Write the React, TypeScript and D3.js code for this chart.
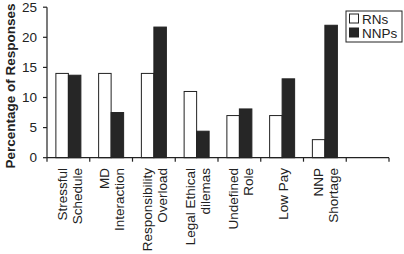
import React from "react";
import * as d3 from "d3";

const categories: string[][] = [
  ["Stressful", "Schedule"],
  ["MD", "Interaction"],
  ["Responsibility", "Overload"],
  ["Legal Ethical", "dilemas"],
  ["Undefined", "Role"],
  ["Low Pay"],
  ["NNP", "Shortage"],
  [],
];
const seriesNames = ["RNs", "NNPs"];
const rnValues = [14, 14, 14, 11, 7, 7, 3];
const nnpValues = [13.7, 7.5, 21.7, 4.4, 8.1, 13.1, 22];
const yTicks = [0, 5, 10, 15, 20, 25];
const colors = ["#ffffff", "#262626"];

const W = 404;
const H = 254;
const left = 47;
const right = 389;
const top = 7.2;
const bottom = 157.7;
const font = "'Liberation Sans', Arial, Helvetica, sans-serif";

export default function App() {
  const idx = categories.map((_, i) => i);
  const x0 = d3.scaleBand<number>().domain(idx).range([left, right]).padding(0);
  const x1 = d3
    .scaleBand<string>()
    .domain(seriesNames)
    .range([0, x0.bandwidth()])
    .paddingInner(0)
    .paddingOuter(0.71);
  const y = d3.scaleLinear().domain([0, 25]).range([bottom, top]);
  const series = [rnValues, nnpValues];
  const boundaries = idx.map((i) => x0(i)!).concat([right]);

  return (
    <svg
      width={W}
      height={H}
      style={{ position: "fixed", left: 0, top: 0, background: "#fff" }}
      fontFamily={font}
    >
      {/* bars */}
      {series.map((vals, s) =>
        vals.map((v, i) => (
          <rect
            key={`${s}-${i}`}
            x={x0(i)! + x1(seriesNames[s])!}
            y={y(v)}
            width={x1.bandwidth()}
            height={bottom - y(v)}
            fill={colors[s]}
            stroke="#222"
            strokeWidth={1}
          />
        ))
      )}
      {/* y axis */}
      <line x1={left} x2={left} y1={top} y2={bottom} stroke="#222" strokeWidth={1.2} />
      {yTicks.map((t) => (
        <g key={t}>
          <line x1={left - 4} x2={left} y1={y(t)} y2={y(t)} stroke="#222" strokeWidth={1.2} />
          <text
            x={left - 10}
            y={y(t)}
            dy="0.35em"
            textAnchor="end"
            fontSize={13.5}
            fill="#222"
          >
            {t}
          </text>
        </g>
      ))}
      {/* x axis */}
      <line x1={left} x2={right} y1={bottom} y2={bottom} stroke="#222" strokeWidth={1.2} />
      {boundaries.map((b, i) => (
        <line key={i} x1={b} x2={b} y1={bottom} y2={bottom + 4} stroke="#222" strokeWidth={1.2} />
      ))}
      {categories.map((lines, i) => {
        const c = x0(i)! + x0.bandwidth() / 2 + 1;
        const n = lines.length;
        return lines.map((ln, k) => {
          const lx = c + (k - (n - 1) / 2) * 15;
          return (
            <text
              key={`${i}-${k}`}
              transform={`translate(${lx},168) rotate(-90)`}
              dy="0.35em"
              textAnchor="end"
              fontSize={13.5}
              fill="#222"
            >
              {ln}
            </text>
          );
        });
      })}
      {/* y title */}
      <text
        transform={`translate(10,86) rotate(-90)`}
        dy="0.35em"
        textAnchor="middle"
        fontSize={13.5}
        fontWeight="bold"
        fill="#222"
      >
        Percentage of Responses
      </text>
      {/* legend */}
      <rect x={346} y={11} width={56} height={31} fill="#fff" stroke="#222" strokeWidth={1} />
      {seriesNames.map((n, s) => (
        <g key={n}>
          <rect
            x={349.5}
            y={14 + s * 14}
            width={9}
            height={9}
            fill={colors[s]}
            stroke="#222"
            strokeWidth={1}
          />
          <text x={362} y={19 + s * 14} dy="0.35em" fontSize={13.5} fill="#222">
            {n}
          </text>
        </g>
      ))}
    </svg>
  );
}
